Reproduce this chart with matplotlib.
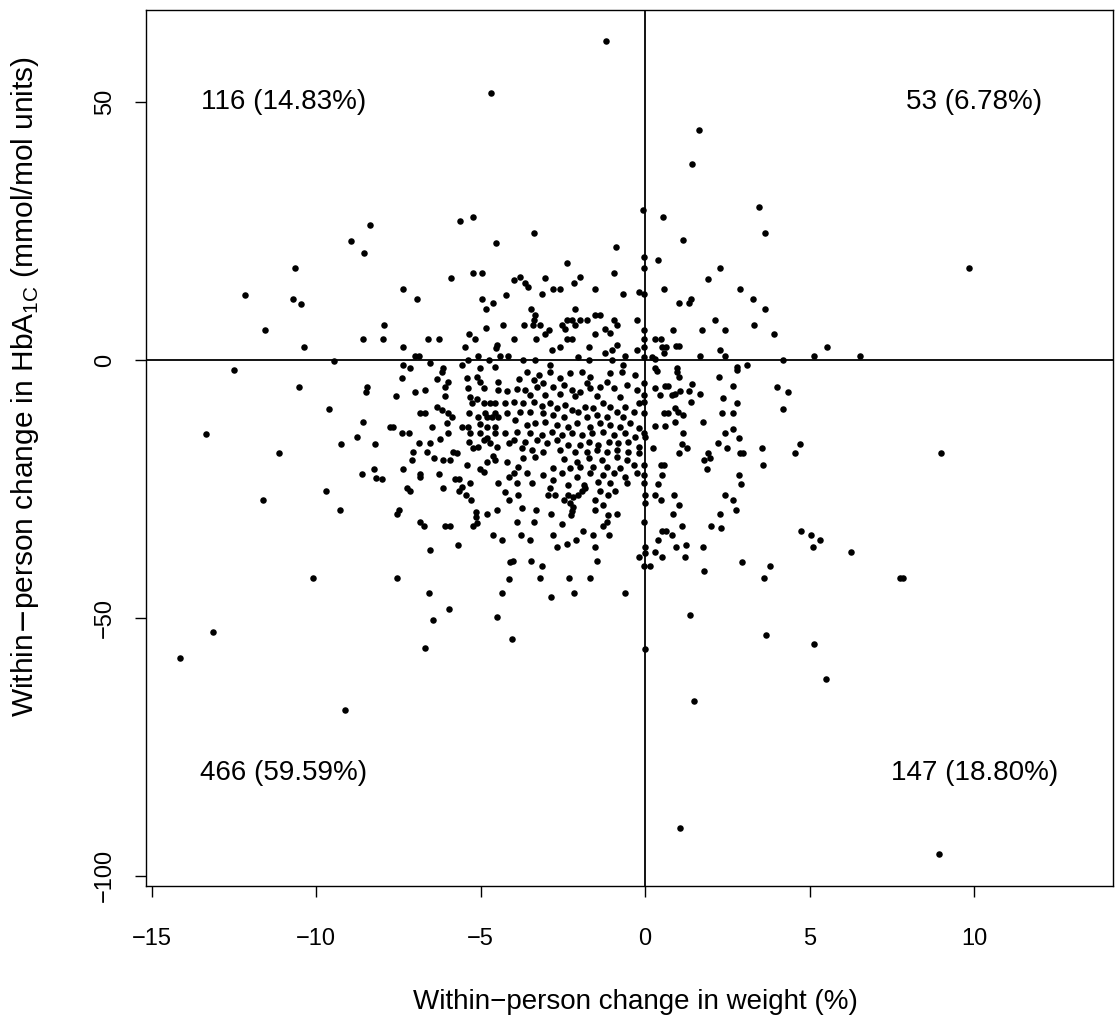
import matplotlib
matplotlib.use("Agg")
import matplotlib.pyplot as plt
import numpy as np

plt.rcParams['font.family'] = ['Liberation Sans', 'DejaVu Sans']

# ---- data: (weight change %, HbA1c change mmol/mol) ----
outer_points = [
    (-1.19, 61.9), (-4.68, 51.8), (1.65, 44.7), (1.42, 38.0), (3.47, 29.6), (3.65, 24.7),
    (-0.05, 29.2), (0.54, 27.8), (-5.62, 27.0), (-5.22, 27.8), (-8.36, 26.2), (-4.53, 22.8),
    (-3.37, 24.7), (-0.88, 22.0), (1.15, 23.3), (-8.94, 23.1),
    (9.85, 17.8), (9.00, -18.0), (7.84, -42.3), (8.94, -95.8), (1.06, -90.8), (1.49, -66.1),
    (5.50, -61.9), (5.14, -55.1), (3.68, -53.3), (1.37, -49.5), (0.0, -56.1), (-4.04, -54.1),
    (-4.50, -49.9), (-6.44, -50.4), (-6.69, -55.9), (-14.13, -57.8), (-13.13, -52.8),
    (-9.12, -67.9),
]

left_points = [
    (-8.53, 20.8), (-10.64, 17.8), (-12.15, 12.7), (-10.71, 11.8), (-10.46, 10.9),
    (-11.54, 5.8), (-8.58, 4.0), (-10.36, 2.6), (-9.47, -0.1), (-12.51, -1.9),
    (-10.51, -5.2), (-8.46, -5.2), (-8.48, -6.1), (-9.60, -9.4), (-8.56, -12.1),
    (-13.34, -14.4), (-8.76, -14.9), (-9.24, -16.2), (-8.20, -16.2), (-11.12, -18.0),
    (-8.60, -22.1), (-8.23, -21.2), (-8.18, -22.8), (-9.70, -25.4), (-11.62, -27.2),
    (-9.27, -29.0), (-10.10, -42.3),
]

right_points = [
    (3.92, 5.0), (5.54, 2.6), (5.12, 0.8), (6.53, 0.8), (4.19, 0.0), (4.02, -5.2),
    (4.33, -6.1), (4.19, -9.4), (4.71, -16.2), (4.56, -18.0), (4.73, -33.1), (5.04, -33.9),
    (5.32, -34.9), (5.10, -36.3), (6.25, -37.3), (7.75, -42.3),
]

upper_left_core = [
    (-5.91, 16.0), (-5.22, 16.8), (-4.96, 16.8), (-7.36, 13.7), (-6.94, 11.8), (-4.96, 11.8),
    (-4.63, 11.0), (-4.83, 9.9), (-4.22, 12.7), (-7.93, 6.8), (-7.97, 4.0), (-4.83, 6.3),
    (-4.33, 6.8), (-6.59, 4.0), (-6.25, 4.0), (-5.34, 5.0), (-5.17, 4.0), (-7.36, 2.6),
    (-5.47, 2.6), (-4.53, 2.4), (-4.49, 2.9), (-6.99, 0.8), (-6.86, 0.8), (-5.09, 0.8),
    (-5.37, 0.0), (-4.76, 0.0), (-4.41, 0.8), (-4.16, 0.8), (-7.36, -1.0), (-7.14, -1.6),
    (-6.53, -0.6), (-6.14, -1.6), (-5.57, -1.0), (-5.02, -1.6), (-4.56, -1.3),
]

upper_mid_core = [
    (-2.38, 18.8), (-3.98, 15.5), (-3.80, 16.2), (-3.65, 14.9), (-3.55, 14.1), (-3.04, 16.0),
    (-1.98, 16.2), (-2.16, 15.0), (-0.94, 16.9), (-3.14, 12.8), (-2.81, 13.7), (-2.58, 13.7),
    (-1.52, 13.7), (-0.68, 12.8), (-0.20, 13.2), (-3.47, 10.0), (-3.34, 8.7), (-3.39, 7.8),
    (-3.21, 6.8), (-3.41, 6.8), (-3.68, 6.8), (-2.13, 10.0), (-2.38, 7.8), (-2.23, 7.8),
    (-1.98, 7.8), (-1.77, 7.8), (-1.52, 8.7), (-1.37, 8.7), (-2.53, 6.8), (-2.43, 6.1),
    (-2.13, 6.8), (-0.96, 7.8), (-0.86, 6.8), (-0.25, 7.8), (-1.22, 6.0), (-1.06, 5.2),
    (-1.52, 5.0), (-3.98, 4.0), (-3.31, 4.0), (-3.04, 5.0), (-2.91, 5.8), (-2.38, 4.0),
    (-2.23, 4.0), (-2.58, 2.6), (-2.84, 1.9), (-1.72, 2.6), (-0.86, 2.9), (-1.01, 1.9),
    (-1.22, 1.3), (-0.25, 1.9), (-0.61, 0.8), (-3.70, 0.0), (-3.34, 0.0), (-2.03, 0.6),
    (-1.72, 0.0), (-1.01, 0.0), (-0.66, -1.0), (-2.89, -1.0),
]

upper_right_core = [
    (-0.03, 20.0), (0.40, 19.5), (-0.03, 17.8), (2.28, 17.8), (1.92, 15.8), (-0.03, 12.9),
    (0.56, 13.7), (2.89, 13.7), (3.27, 11.8), (3.65, 10.0), (1.04, 11.0), (1.32, 11.0),
    (1.39, 11.8), (2.13, 7.8), (3.31, 6.8), (0.86, 5.8), (1.72, 5.8), (2.43, 5.8),
    (-0.03, 5.8), (-0.03, 4.0), (0.30, 4.0), (0.48, 4.0), (-0.03, 2.6), (0.51, 2.6),
    (0.64, 2.6), (0.94, 2.7), (1.04, 2.7), (0.58, 1.3), (-0.03, 0.6), (0.20, 0.6),
    (0.30, 0.3), (1.67, 0.8), (2.28, 1.9), (2.43, 0.8), (2.79, -1.3), (3.09, -1.0),
    (0.30, -1.6), (0.96, -1.6),
]

mid_left_core = [
    (-7.40, -3.4), (-6.18, -2.3), (-6.33, -3.7), (-5.98, -4.2), (-6.08, -5.2), (-5.42, -3.4),
    (-5.12, -3.2), (-5.02, -4.2), (-4.91, -5.5), (-4.46, -4.2), (-4.46, -5.8), (-4.20, -6.0),
    (-7.57, -7.0), (-6.99, -6.1), (-6.69, -5.8), (-6.08, -7.0), (-5.37, -5.5), (-5.32, -7.1),
    (-5.12, -7.6), (-5.27, -8.4), (-4.91, -8.4), (-4.71, -8.4), (-4.56, -8.4), (-4.26, -8.4),
    (-6.84, -10.2), (-6.69, -10.2), (-6.33, -9.1), (-6.18, -9.6), (-5.98, -10.2), (-5.88, -11.0),
    (-6.03, -12.2), (-5.34, -10.2), (-5.07, -11.0), (-4.86, -10.2), (-4.81, -11.0), (-4.66, -11.0),
    (-4.56, -10.3), (-4.46, -11.0), (-4.20, -10.3), (-7.75, -12.9), (-7.67, -12.9), (-6.48, -12.9),
    (-5.57, -12.9), (-5.37, -12.9), (-5.02, -12.3), (-4.81, -12.9), (-4.56, -12.9), (-7.40, -14.2),
    (-7.19, -14.2), (-6.23, -15.4), (-5.98, -14.2), (-5.32, -14.2), (-5.02, -14.2), (-4.81, -15.2),
    (-4.56, -14.2), (-4.26, -14.2), (-6.86, -16.0), (-6.53, -16.0), (-5.34, -15.8), (-5.22, -17.1),
    (-5.07, -16.8), (-4.91, -15.5), (-4.71, -16.0), (-4.51, -16.8), (-4.15, -16.0), (-7.04, -17.8),
    (-6.64, -17.8), (-5.83, -17.8), (-5.72, -18.1), (-7.09, -19.4), (-6.43, -18.9), (-6.13, -19.3),
    (-5.93, -19.3), (-4.61, -18.6), (-4.56, -19.4), (-5.42, -20.4), (-4.81, -19.7), (-4.20, -19.7),
    (-7.35, -21.2), (-6.84, -22.0), (-6.28, -22.0), (-5.02, -21.2), (-4.91, -21.7), (-8.00, -23.0),
    (-6.84, -22.6), (-5.78, -23.0), (-5.67, -23.0), (-5.32, -23.9), (-4.46, -23.9), (-4.15, -22.6),
    (-7.24, -24.9), (-6.13, -24.9), (-5.57, -24.6),
]

dense_core = [
    (-3.60, -2.26), (-3.24, -2.91), (-2.89, -2.26), (-2.28, -2.59), (-1.93, -2.26), (-1.67, -3.23),
    (-1.06, -2.59), (-0.71, -2.26), (-0.30, -2.91), (-3.82, -3.75), (-3.39, -3.88), (-3.09, -4.40),
    (-2.58, -3.56), (-1.77, -4.53), (-1.17, -4.20), (-3.90, -5.69), (-3.65, -5.82), (-3.29, -5.17),
    (-2.79, -5.17), (-2.48, -4.85), (-2.23, -5.82), (-1.98, -6.14), (-1.67, -5.50), (-1.37, -5.17),
    (-0.96, -5.50), (-0.56, -4.85), (-0.25, -5.82), (-3.50, -6.79), (-3.04, -6.79), (-2.58, -6.60),
    (-2.13, -6.98), (-1.47, -6.98), (-0.76, -7.11), (-4.00, -8.08), (-3.70, -8.41), (-3.39, -8.08),
    (-3.14, -8.92), (-2.89, -8.41), (-2.68, -9.38), (-2.43, -8.73), (-2.23, -9.70), (-2.03, -10.02),
    (-1.82, -9.05), (-1.57, -9.38), (-1.27, -8.41), (-1.06, -9.05), (-0.86, -10.02), (-0.61, -9.05),
    (-0.35, -10.02), (-0.20, -8.41), (-3.80, -10.02), (-3.50, -10.02), (-3.09, -10.35), (-2.79, -10.67),
    (-2.48, -10.99), (-1.77, -10.99), (-1.47, -10.67), (-1.17, -10.99), (-0.66, -10.99), (-3.95, -11.64),
    (-3.60, -12.61), (-3.34, -12.29), (-3.04, -11.96), (-2.68, -12.61), (-2.33, -12.93), (-2.08, -12.29),
    (-1.67, -12.93), (-1.37, -12.29), (-1.06, -12.61), (-0.76, -12.93), (-0.46, -12.29), (-0.20, -13.26),
    (-3.90, -13.90), (-3.50, -14.23), (-3.14, -14.55), (-2.84, -13.90), (-2.53, -14.55), (-2.23, -14.23),
    (-1.93, -14.55), (-1.62, -14.23), (-1.27, -13.90), (-0.96, -14.55), (-0.61, -14.23), (-0.30, -14.87),
    (-4.00, -15.52), (-3.65, -15.84), (-3.29, -15.52), (-2.99, -16.17), (-2.68, -15.52), (-2.33, -16.49),
    (-1.98, -16.49), (-1.72, -15.84), (-1.42, -16.49), (-1.11, -15.84), (-0.81, -16.17), (-0.51, -15.84),
    (-0.20, -16.81), (-3.75, -17.13), (-3.44, -17.46), (-3.09, -17.78), (-2.58, -17.46), (-2.13, -17.78),
    (-1.77, -17.78), (-1.47, -17.46), (-1.17, -17.78), (-0.86, -17.46), (-0.51, -17.78), (-0.20, -18.11),
    (-3.70, -19.08), (-3.34, -18.88), (-2.48, -19.27), (-2.08, -19.72), (-1.72, -19.08), (-1.32, -19.40),
    (-0.86, -18.88), (-0.56, -19.40), (-3.85, -20.69), (-2.79, -21.02), (-2.28, -21.02), (-1.98, -20.69),
    (-1.57, -20.69), (-1.17, -20.69), (-0.76, -21.02), (-0.35, -20.37), (-4.00, -21.98), (-3.60, -21.98),
    (-3.09, -22.31), (-2.53, -21.98), (-2.08, -22.63), (-1.67, -21.98), (-1.27, -22.31), (-0.96, -21.98),
    (-0.61, -22.63), (-0.25, -21.98), (-3.90, -23.92), (-3.44, -23.92), (-2.79, -23.28), (-2.33, -24.25),
    (-1.87, -24.25), (-1.42, -23.60), (-1.06, -23.92), (-0.56, -23.92), (-2.89, -24.89), (-1.82, -24.89),
]

mid_right_core = [
    (0.36, -2.1), (0.96, -2.3), (1.04, -3.2), (2.26, -3.2), (2.79, -1.9), (-0.03, -4.5),
    (0.30, -5.5), (0.61, -5.0), (0.71, -5.0), (1.42, -4.7), (2.68, -5.0), (0.46, -6.8),
    (0.81, -6.8), (0.91, -6.5), (1.06, -6.0), (1.32, -6.0), (1.67, -6.5), (1.39, -8.1),
    (-0.03, -8.1), (-0.03, -6.8), (2.38, -7.4), (2.79, -8.4), (-0.03, -10.2), (0.56, -10.2),
    (0.71, -10.2), (0.91, -9.2), (1.01, -10.0), (1.16, -10.7), (2.33, -10.2), (2.67, -10.2),
    (0.30, -12.8), (0.61, -12.8), (0.91, -12.0), (1.77, -12.0), (-0.03, -14.2), (0.0, -14.9),
    (1.16, -14.2), (1.11, -16.2), (1.27, -17.1), (2.43, -14.2), (2.68, -13.4), (2.84, -15.2),
    (2.20, -16.0), (2.50, -17.1), (0.25, -17.1), (1.04, -18.0), (1.92, -18.0), (1.98, -18.9),
    (1.79, -19.4), (2.89, -18.0), (2.97, -18.0), (3.55, -17.1), (3.58, -20.4), (-0.03, -20.4),
    (0.48, -20.4), (0.58, -20.4), (1.88, -21.2), (-0.03, -22.3), (0.51, -22.3), (2.84, -22.3),
    (2.91, -24.1), (-0.03, -23.9), (0.40, -24.1),
]

lower_left_core = [
    (-7.16, -25.4), (-5.67, -25.4), (-5.44, -26.2), (-5.30, -27.2), (-4.26, -25.5), (-4.15, -27.2),
    (-7.47, -29.0), (-7.55, -29.9), (-6.84, -31.4), (-6.72, -32.2), (-6.08, -32.2), (-5.93, -32.2),
    (-5.14, -29.4), (-5.14, -30.5), (-5.12, -31.6), (-5.22, -32.2), (-4.81, -29.9), (-4.51, -29.0),
    (-4.63, -33.9), (-4.36, -34.9), (-6.53, -36.9), (-5.70, -35.9), (-7.53, -42.3), (-6.56, -45.1),
    (-5.95, -48.2), (-4.15, -42.5), (-4.36, -45.1), (-4.12, -39.1),
]

lower_mid_core = [
    (-3.85, -26.2), (-2.94, -26.2), (-2.74, -26.2), (-2.48, -27.2), (-2.33, -26.2), (-2.18, -26.5),
    (-2.03, -26.2), (-1.92, -25.4), (-2.28, -27.8), (-2.18, -28.5), (-2.23, -29.2), (-2.25, -30.1),
    (-1.37, -25.4), (-1.12, -26.2), (-0.91, -25.4), (-1.52, -27.2), (-1.27, -28.1), (-1.52, -29.1),
    (-1.12, -30.1), (-0.86, -29.9), (-1.16, -31.4), (-1.29, -32.2), (-3.75, -28.6), (-3.31, -29.0),
    (-2.87, -29.9), (-3.90, -31.4), (-3.37, -31.4), (-2.53, -31.8), (-3.78, -33.9), (-3.50, -34.9),
    (-2.79, -33.9), (-1.88, -33.1), (-1.57, -33.9), (-1.09, -33.9), (-2.68, -36.3), (-2.36, -35.7),
    (-2.10, -34.9), (-1.52, -36.3), (-4.02, -38.9), (-3.47, -38.9), (-3.14, -40.0), (-1.45, -38.9),
    (-3.21, -42.3), (-2.30, -42.3), (-1.67, -42.3), (-2.16, -45.1), (-0.61, -45.1), (-2.87, -46.0),
    (-0.20, -38.2),
]

lower_right_core = [
    (0.0, -26.2), (0.30, -26.2), (0.48, -27.2), (0.88, -26.2), (0.0, -27.8), (1.04, -28.1),
    (2.43, -26.2), (2.67, -27.2), (2.77, -29.0), (0.86, -29.9), (2.28, -29.9), (-0.03, -31.4),
    (1.11, -32.2), (2.00, -32.2), (2.31, -32.6), (0.51, -33.1), (0.64, -33.1), (0.81, -33.9),
    (0.40, -34.9), (0.0, -36.3), (0.0, -37.5), (0.30, -37.2), (0.51, -38.2), (0.94, -36.3),
    (1.25, -35.9), (1.22, -38.2), (1.77, -36.3), (-0.03, -40.0), (0.15, -40.0), (1.79, -40.9),
    (2.94, -39.1), (3.62, -42.3), (3.80, -40.0),
]

quadrant_labels = ["116 (14.83%)", "53 (6.78%)", "466 (59.59%)", "147 (18.80%)"]
quadrant_label_x = [-11, 10, -11, 10]
quadrant_label_y = [50, 50, -80, -80]

x_ticks = [-15, -10, -5, 0, 5, 10]
y_ticks = [-100, -50, 0, 50]

groups = [outer_points, left_points, right_points, upper_left_core, upper_mid_core,
          upper_right_core, mid_left_core, dense_core, mid_right_core, lower_left_core,
          lower_mid_core, lower_right_core]
pts = np.array([p for g in groups for p in g])
weight_change = pts[:, 0]
hba1c_change = pts[:, 1]

# ---- figure ----
W, H, DPI = 1115, 1024, 100
fig = plt.figure(figsize=(W / DPI, H / DPI), dpi=DPI)
ax = fig.add_axes([146 / W, 1 - 886 / H, (1113 - 146) / W, (886 - 10) / H])

ax.scatter(weight_change, hba1c_change, s=22, color='black', linewidths=0, zorder=3)
ax.axhline(0, color='black', lw=1.3, zorder=2)
ax.axvline(0, color='black', lw=1.3, zorder=2)

for lab, lx, ly in zip(quadrant_labels, quadrant_label_x, quadrant_label_y):
    ax.text(lx, ly, lab, ha='center', va='center', fontsize=20)

ax.set_xlim(-15.17, 14.22)
ax.set_ylim(-102.0, 67.9)
ax.set_xticks(x_ticks)
ax.set_yticks(y_ticks)
ax.tick_params(axis='both', direction='out', length=8, width=1.0, labelsize=17, color='black')
ax.tick_params(axis='x', pad=22)
ax.tick_params(axis='y', pad=13.5)
for lbl in ax.get_yticklabels():
    lbl.set_rotation(90)
    lbl.set_va('center')
for sp in ax.spines.values():
    sp.set_linewidth(1.0)
    sp.set_color('black')

ax.set_xlabel('Within\u2212person change in weight (%)', fontsize=20, va='center')
ax.xaxis.set_label_coords((635 - 146) / 967, (886 - 1002) / 876)
ax.set_ylabel(r'Within$-$person change in HbA$_{\mathregular{1C}}$ (mmol/mol units)',
              fontsize=21.5, va='center')
ax.yaxis.set_label_coords((25 - 146) / 967, (886 - 387) / 876)

fig.savefig('out.png', dpi=DPI)
